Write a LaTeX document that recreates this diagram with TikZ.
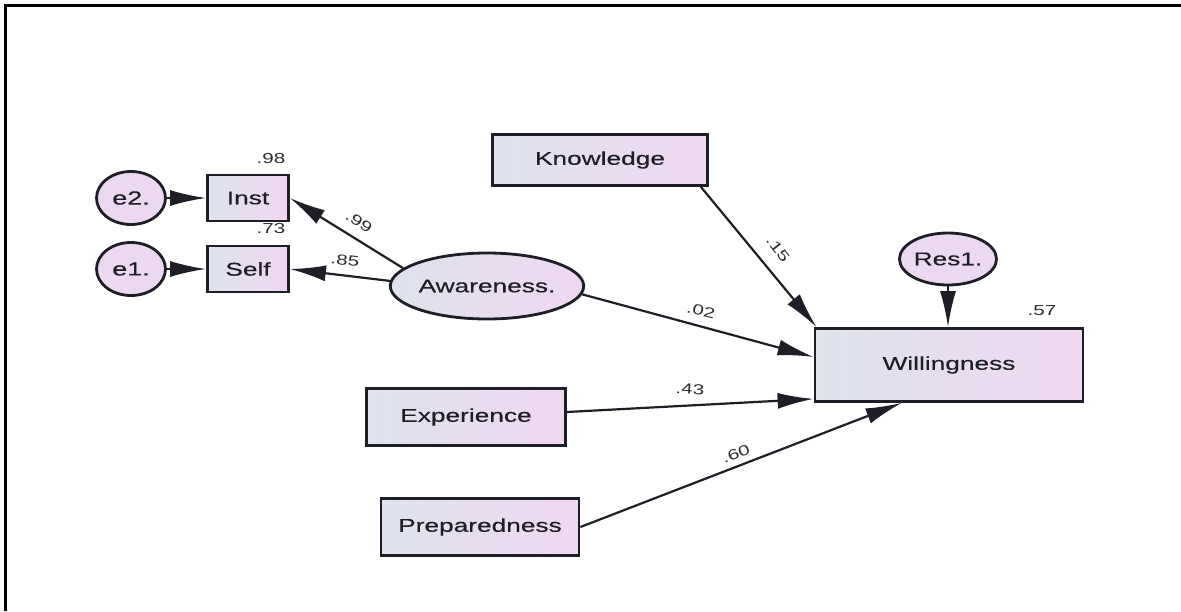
\documentclass[tikz,border=0pt]{standalone}
\usepackage{fontspec}
\setmainfont{Liberation Sans}
\newfontfamily\labfont{Liberation Sans}[FakeStretch=1.42,FakeBold=0.35]
\newfontfamily\numfont{Liberation Sans}[FakeStretch=1.42]
\usetikzlibrary{shapes.geometric,arrows.meta,calc}
\definecolor{fillL}{RGB}{222,227,236}
\definecolor{fillR}{RGB}{240,215,242}
\definecolor{ink}{RGB}{30,30,38}
\definecolor{numink}{RGB}{45,45,45}
\tikzset{
  varbox/.style={draw=ink, line width=2.8pt, rectangle, inner sep=0pt,
    left color=fillL, right color=fillR, text=ink,
    font=\labfont\fontsize{18.5}{20}\selectfont},
  latent/.style={draw=ink, line width=2.8pt, ellipse, inner sep=0pt,
    left color=fillL, right color=fillR, text=ink,
    font=\labfont\fontsize{18.5}{20}\selectfont},
  errnode/.style={draw=ink, line width=2.8pt, ellipse, inner sep=0pt,
    fill=fillR!80!fillL, text=ink,
    font=\labfont\fontsize{19}{20}\selectfont},
  conn/.style={draw=ink, line width=2.2pt, arrows={-Latex[length=36pt,width=16pt]}},
  coef/.style={text=numink, inner sep=0pt, font=\numfont\fontsize{14.5}{15}\selectfont}
}
\begin{document}
\begin{tikzpicture}[x=1pt,y=-1pt]
\useasboundingbox (0,0) rectangle (1181,611);
\draw[line width=3pt, black] (5,611) -- (5,5) -- (1181,5);

% nodes
\node[errnode, minimum width=69pt, minimum height=53pt] (e2) at (131,198) {e2.};
\node[errnode, minimum width=69pt, minimum height=53pt] (e1) at (131,269) {e1.};
\node[varbox, minimum width=81pt, minimum height=46pt] (inst) at (248,198) {Inst};
\node[varbox, minimum width=81pt, minimum height=46pt] (self) at (248,269) {Self};
\node[latent, minimum width=184pt, minimum height=66pt] (aw) at (487,286) {Awareness.};
\node[varbox, minimum width=215pt, minimum height=51pt] (know) at (600,160) {Knowledge};
\node[errnode, minimum width=70pt, minimum height=52pt, font=\labfont\fontsize{18.5}{20}\selectfont] (res) at (948,259) {Res1.};
\node[varbox, minimum width=268pt, minimum height=73pt] (will) at (949,365) {Willingness};
\node[varbox, minimum width=199pt, minimum height=57pt] (exp) at (466,417) {Experience};
\node[varbox, minimum width=198pt, minimum height=57pt] (prep) at (480,527) {Preparedness};

% connectors
\draw[conn] (e2) -- (inst);
\draw[conn] (e1) -- (self);
\draw[conn] (aw.168) -- (inst.east);
\draw[conn] (aw.177) -- (self.east);
\draw[conn] (aw.-5) -- ([yshift=8pt]will.west);
\draw[conn] ([xshift=-8pt]know.south east) -- ([xshift=3pt]will.north west);
\draw[conn] (res.south) -- (res.south |- will.north);
\draw[conn] ([yshift=5pt]exp.east) -- ([yshift=4pt]will.south west);
\draw[conn] (prep.east) -- ([xshift=88pt]will.south west);

% coefficients
\node[coef] (c98) at (271,159) {.98};
\node[coef] (c73) at (271,229) {.73};
\node[coef, rotate=-33] (c99) at (359,222) {.99};
\node[coef, rotate=-6] (c85) at (345,260) {.85};
\node[coef, rotate=-52] (c15) at (778,249) {.15};
\node[coef, rotate=-13] (c02) at (701,311) {.02};
\node[coef, rotate=-3] (c43) at (690,389) {.43};
\node[coef, rotate=21] (c60) at (736,454) {.60};
\node[coef] (c57) at (1042,311) {.57};
\end{tikzpicture}
\end{document}
